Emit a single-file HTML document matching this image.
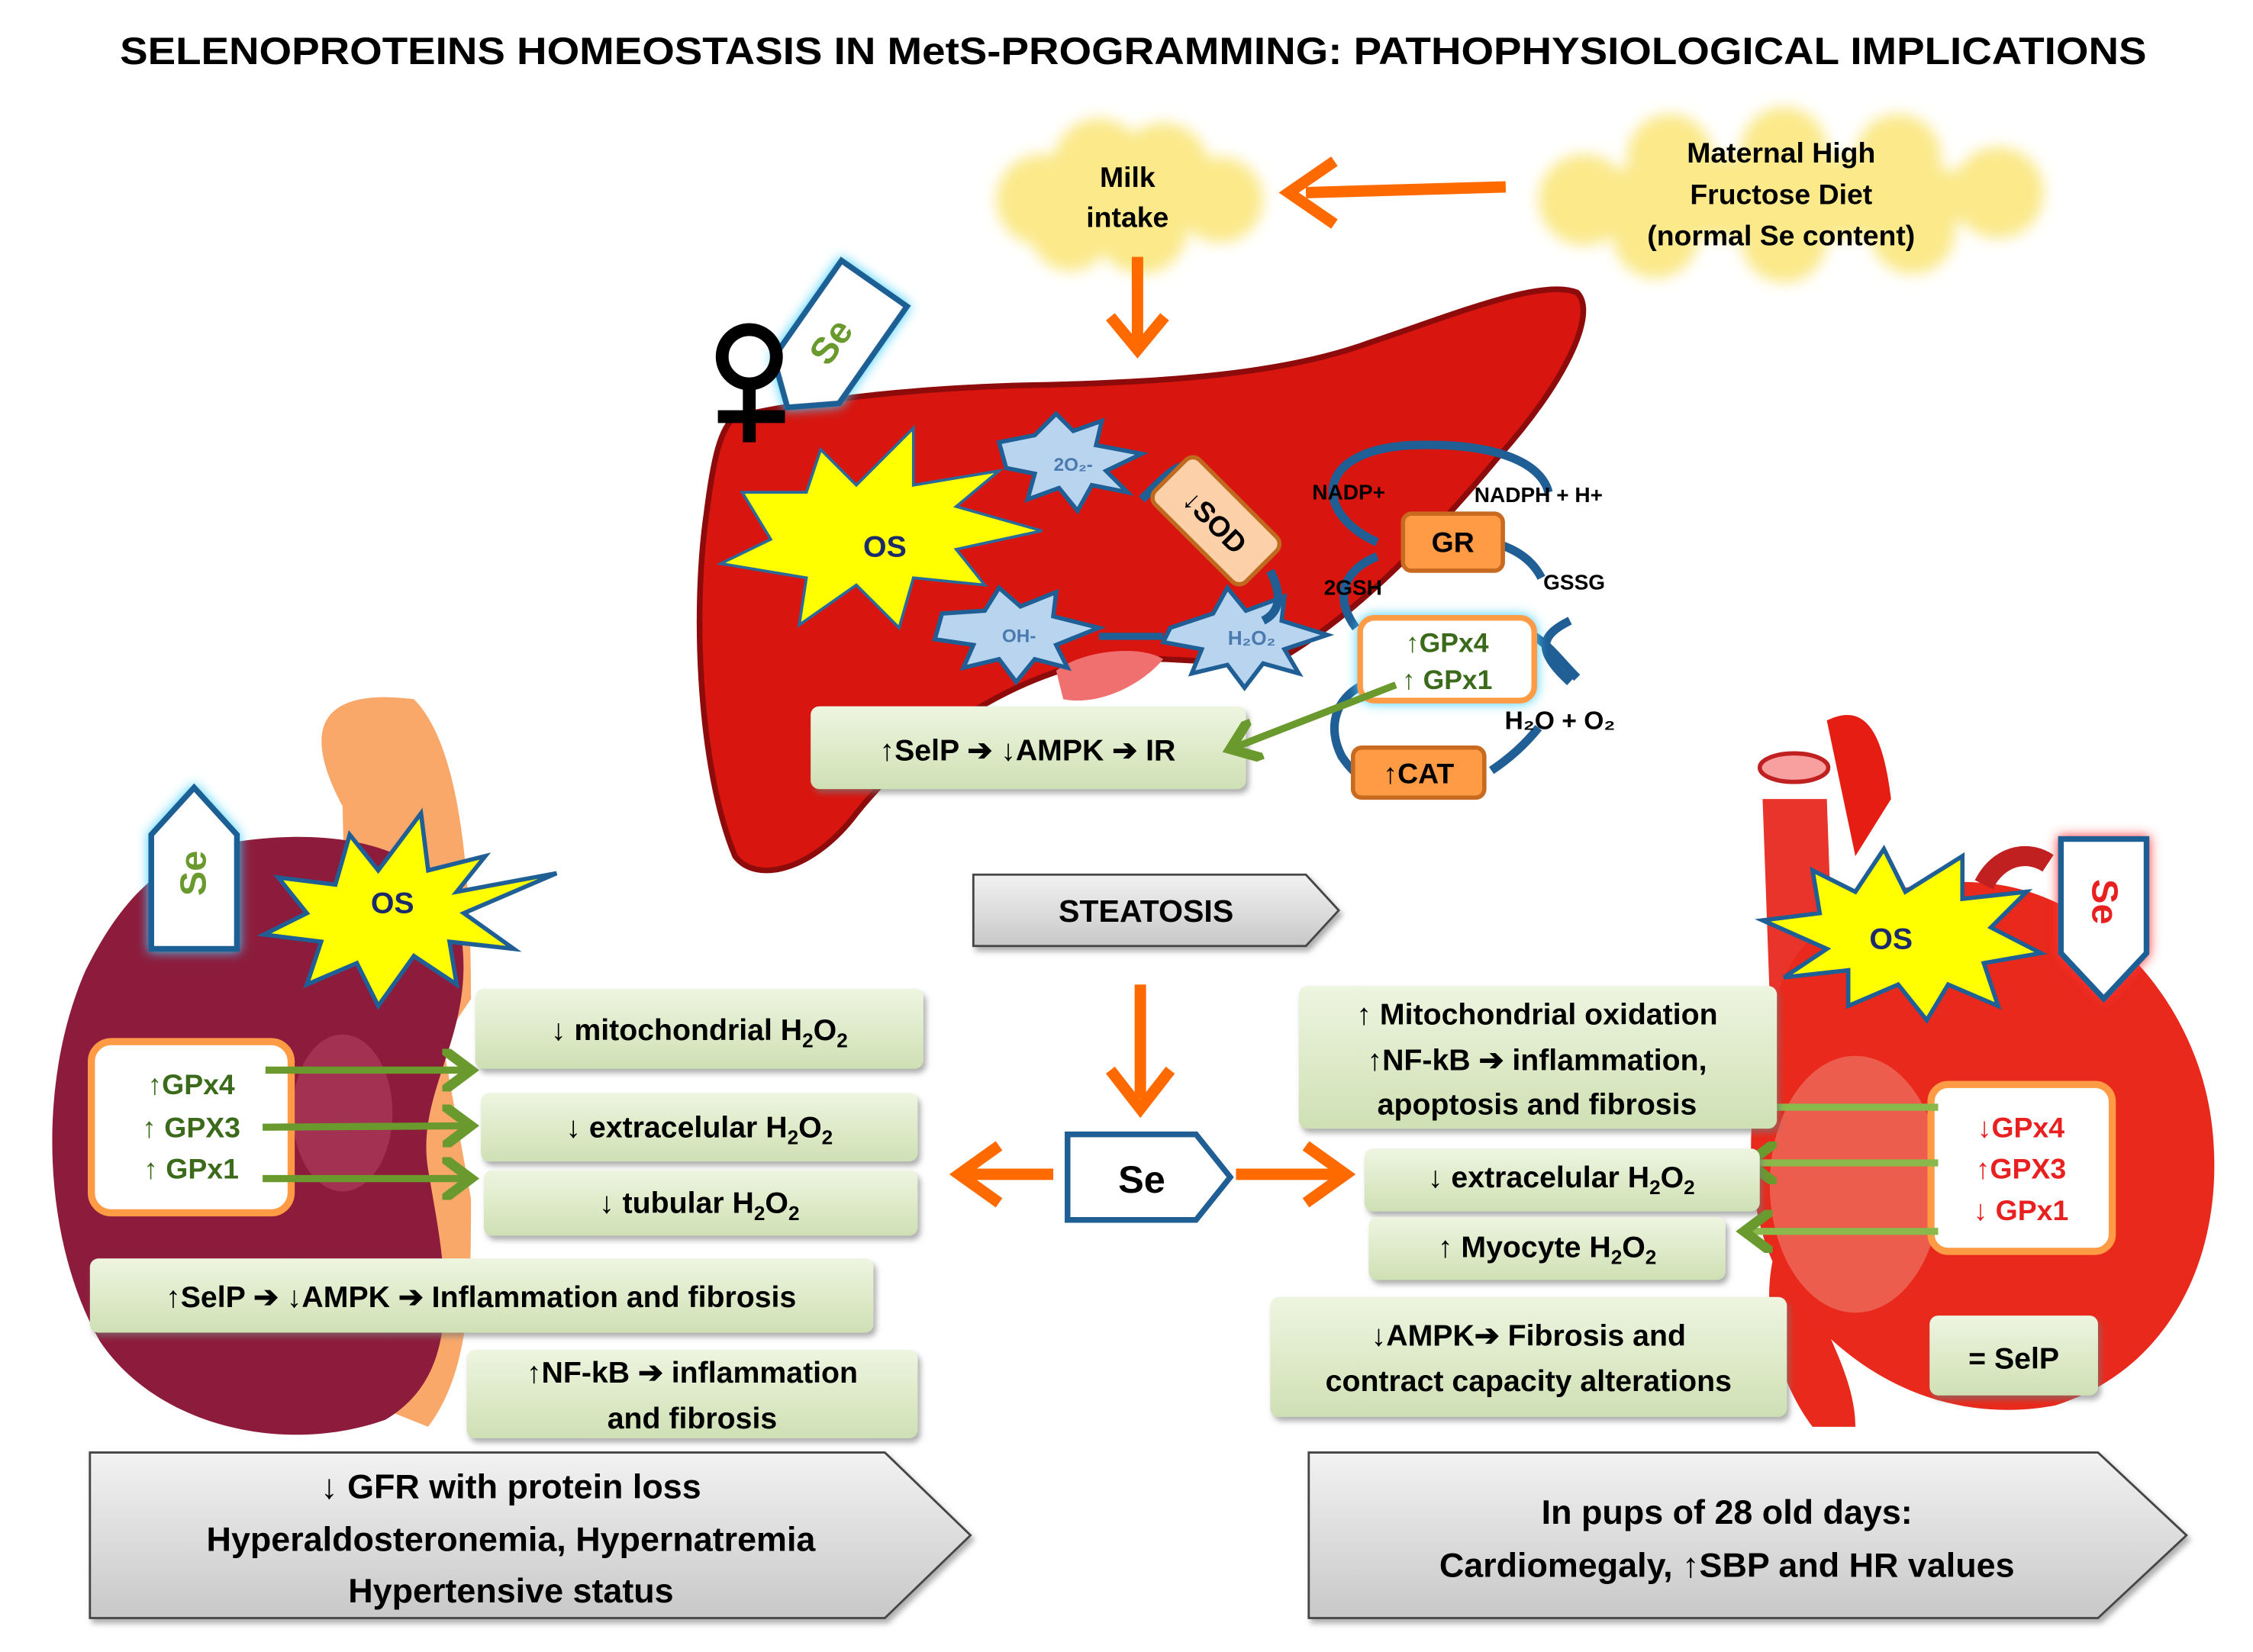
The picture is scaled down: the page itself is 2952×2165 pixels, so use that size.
<!DOCTYPE html>
<html><head><meta charset="utf-8"><style>
html,body{margin:0;padding:0;background:#fff}
svg{display:block}
text{font-family:"Liberation Sans",sans-serif;font-weight:bold}
</style></head><body>
<svg width="2952" height="2165" viewBox="0 0 1578.6 1157.8" preserveAspectRatio="none" xmlns="http://www.w3.org/2000/svg">
<defs>
<linearGradient id="gb" x1="0" y1="0" x2="0" y2="1"><stop offset="0" stop-color="#eef5e0"/><stop offset="1" stop-color="#cfe0b4"/></linearGradient>
<linearGradient id="gg" x1="0" y1="0" x2="0" y2="1"><stop offset="0" stop-color="#f2f2f2"/><stop offset="1" stop-color="#c8c8c8"/></linearGradient>
<filter id="sh" x="-10%" y="-10%" width="130%" height="140%"><feDropShadow dx="2" dy="3" stdDeviation="2" flood-color="#777" flood-opacity="0.6"/></filter>
<filter id="bl"><feGaussianBlur stdDeviation="5"/></filter>
<filter id="gl" x="-30%" y="-30%" width="160%" height="160%"><feDropShadow dx="0" dy="0" stdDeviation="4" flood-color="#40d0ff"/></filter>
<filter id="glr" x="-30%" y="-30%" width="160%" height="160%"><feDropShadow dx="0" dy="0" stdDeviation="4" flood-color="#ff3030"/></filter>
<marker id="ag" markerWidth="6" markerHeight="6" refX="4" refY="3" orient="auto" markerUnits="strokeWidth"><path d="M0,0 L4,3 L0,6" fill="none" stroke="#6a9a2e" stroke-width="1.4"/></marker>
</defs>

<text x="84" y="45" font-size="27" textLength="1420" lengthAdjust="spacingAndGlyphs">SELENOPROTEINS HOMEOSTASIS IN MetS-PROGRAMMING: PATHOPHYSIOLOGICAL IMPLICATIONS</text>

<!-- clouds -->
<g filter="url(#bl)" fill="#fbe98a">
<circle cx="730" cy="140" r="32"/><circle cx="770" cy="115" r="32"/><circle cx="815" cy="118" r="32"/><circle cx="855" cy="140" r="30"/><circle cx="800" cy="160" r="32"/><circle cx="750" cy="162" r="28"/>
<circle cx="1110" cy="140" r="32"/><circle cx="1170" cy="110" r="30"/><circle cx="1250" cy="105" r="30"/><circle cx="1330" cy="110" r="30"/><circle cx="1400" cy="135" r="32"/><circle cx="1340" cy="162" r="30"/><circle cx="1250" cy="168" r="30"/><circle cx="1160" cy="165" r="30"/><ellipse cx="1250" cy="138" rx="150" ry="30"/>
</g>
<text x="790" y="131" font-size="20" text-anchor="middle">Milk</text>
<text x="790" y="159" font-size="20" text-anchor="middle">intake</text>
<text x="1248" y="114" font-size="20" text-anchor="middle">Maternal High</text>
<text x="1248" y="143" font-size="20" text-anchor="middle">Fructose Diet</text>
<text x="1248" y="172" font-size="20" text-anchor="middle">(normal Se content)</text>
<line x1="1055" y1="131" x2="915" y2="135" stroke="#ff6a00" stroke-width="8"/>
<path d="M935,113 L903,135 L935,157" fill="none" stroke="#ff6a00" stroke-width="8"/>
<line x1="797" y1="180" x2="797" y2="240" stroke="#ff6a00" stroke-width="8"/>
<path d="M778,222 L797,245 L816,222" fill="none" stroke="#ff6a00" stroke-width="8"/>

<!-- liver -->
<path d="M515,292 C570,280 640,272 720,270 C820,268 900,262 960,240 C1020,220 1080,195 1105,205 C1120,220 1095,270 1050,320 C1000,380 950,430 900,460 C850,470 800,455 760,465 C700,480 640,520 600,570 C570,610 530,620 515,600 C490,540 485,430 495,360 C500,320 505,300 515,292 Z" fill="#d8150f" stroke="#8e0b0b" stroke-width="4"/>
<path d="M740,470 C760,455 800,452 815,462 C800,480 770,495 745,490 Z" fill="#f07070"/>

<!-- Se tag liver -->
<g transform="translate(585,238) rotate(35)" filter="url(#gl)">
<path d="M-28,-48 L28,-48 L28,35 L0,58 L-28,35 Z" fill="#fff" stroke="#1f5f95" stroke-width="4"/>
</g>
<text x="583" y="248" font-size="26" fill="#6a9a2e" transform="rotate(-55 583 240)" text-anchor="middle">Se</text>
<g stroke="#000" stroke-width="9" fill="none">
<circle cx="525" cy="250" r="19"/><line x1="525" y1="268" x2="525" y2="310"/><line x1="503" y1="292" x2="550" y2="292"/>
</g>

<!-- OS star liver -->
<polygon points="520,345 565,345 575,315 600,340 640,300 640,340 700,330 670,355 730,372 670,385 690,410 640,405 630,440 600,410 560,438 565,405 505,395 540,378" fill="#ffff00" stroke="#2a6a9a" stroke-width="2"/>
<text x="620" y="390" font-size="21" fill="#1a2a6a" text-anchor="middle">OS</text>
<polygon points="700,310 725,305 740,290 752,302 772,295 768,312 800,318 775,330 790,345 765,340 755,358 742,342 720,350 725,332 705,328" fill="#b8d4ee" stroke="#1f5f95" stroke-width="3"/>
<text x="752" y="330" font-size="13" fill="#4a7ab0" font-weight="normal" text-anchor="middle">2O₂-</text>
<polygon points="660,430 690,428 700,412 715,425 740,415 738,432 770,440 740,452 748,468 725,462 712,478 700,462 675,468 682,452 655,448" fill="#b8d4ee" stroke="#1f5f95" stroke-width="3"/>
<text x="714" y="450" font-size="13" fill="#4a7ab0" font-weight="normal" text-anchor="middle">OH-</text>
<line x1="815" y1="446" x2="770" y2="446" stroke="#1f5f95" stroke-width="5"/>
<polygon points="820,440 850,430 860,412 873,428 900,418 898,435 930,445 900,455 910,472 885,465 872,482 860,466 835,472 842,455 815,450" fill="#b8d4ee" stroke="#1f5f95" stroke-width="3"/>
<text x="877" y="452" font-size="14" fill="#4a7ab0" font-weight="normal" text-anchor="middle">H₂O₂</text>
<path d="M800,350 C820,330 830,320 840,330" fill="none" stroke="#1f5f95" stroke-width="6"/>
<path d="M890,400 C900,420 895,430 885,435" fill="none" stroke="#1f5f95" stroke-width="6"/>
<g transform="translate(852,365) rotate(45)">
<rect x="-45" y="-22" width="90" height="44" rx="7" fill="#fcd0a8" stroke="#c06a20" stroke-width="3"/>
<text x="0" y="8" font-size="20" text-anchor="middle">↓SOD</text>
</g>

<!-- GSH cycle -->
<g fill="none" stroke="#1f5f95" stroke-width="6">
<path d="M965,380 C920,360 920,315 990,312 C1050,310 1080,325 1085,345"/>
<path d="M965,390 C940,400 935,420 950,440"/>
<path d="M1045,380 C1065,385 1075,395 1080,405"/>
<path d="M1100,435 C1080,445 1075,455 1100,478"/>
<path d="M1065,440 C1085,450 1090,460 1105,475"/>
<path d="M955,480 C935,490 930,510 940,530 C950,545 960,550 970,550"/>
<path d="M1045,540 C1060,530 1070,520 1078,510"/>
</g>
<text x="945" y="350" font-size="15" text-anchor="middle">NADP+</text>
<text x="1078" y="352" font-size="15" text-anchor="middle">NADPH + H+</text>
<text x="948" y="417" font-size="15" text-anchor="middle">2GSH</text>
<text x="1103" y="413" font-size="15" text-anchor="middle">GSSG</text>
<rect x="983" y="360" width="70" height="40" rx="6" fill="#ff9a45" stroke="#c86a20" stroke-width="3"/>
<text x="1018" y="387" font-size="20" text-anchor="middle">GR</text>
<rect x="953" y="433" width="122" height="58" rx="10" fill="#fff" stroke="#ff9a45" stroke-width="4" filter="url(#gl)"/>
<text x="1014" y="457" font-size="19" fill="#3a6a1a" text-anchor="middle" font-weight="normal">↑GPx4</text>
<text x="1014" y="483" font-size="19" fill="#3a6a1a" text-anchor="middle" font-weight="normal">↑ GPx1</text>
<text x="1093" y="511" font-size="18" text-anchor="middle">H₂O + O₂</text>
<rect x="948" y="524" width="92" height="35" rx="6" fill="#ff9a45" stroke="#c86a20" stroke-width="3"/>
<text x="994" y="549" font-size="20" text-anchor="middle">↑CAT</text>

<rect x="568" y="495" width="305" height="58" rx="6" fill="url(#gb)" filter="url(#sh)"/>
<text x="720" y="533" font-size="21" text-anchor="middle">↑SelP ➔ ↓AMPK ➔ IR</text>
<line x1="978" y1="480" x2="862" y2="525" stroke="#6a9a2e" stroke-width="5" marker-end="url(#ag)"/>

<!-- steatosis -->
<path d="M682,613 L915,613 L938,638 L915,663 L682,663 Z" fill="url(#gg)" stroke="#444" stroke-width="1.5" filter="url(#sh)"/>
<text x="803" y="646" font-size="22" text-anchor="middle">STEATOSIS</text>
<line x1="799" y1="690" x2="799" y2="770" stroke="#ff6a00" stroke-width="8"/>
<path d="M778,750 L799,777 L820,750" fill="none" stroke="#ff6a00" stroke-width="8"/>
<path d="M748,795 L838,795 L862,825 L838,855 L748,855 Z" fill="#fff" stroke="#1f5f95" stroke-width="4"/>
<text x="800" y="836" font-size="27" text-anchor="middle">Se</text>
<line x1="738" y1="823" x2="675" y2="823" stroke="#ff6a00" stroke-width="8"/>
<path d="M700,803 L672,823 L700,843" fill="none" stroke="#ff6a00" stroke-width="8"/>
<line x1="866" y1="823" x2="940" y2="823" stroke="#ff6a00" stroke-width="8"/>
<path d="M915,803 L943,823 L915,843" fill="none" stroke="#ff6a00" stroke-width="8"/>

<!-- kidney -->
<path d="M240,565 C200,490 250,485 290,490 C320,520 330,600 330,700 L310,730 L330,840 C330,900 330,960 300,1000 L250,980 Z" fill="#f9a86a"/>
<path d="M165,590 C230,580 300,590 320,640 C340,720 290,760 300,820 C310,880 330,960 270,995 C200,1020 110,1000 70,940 C30,870 25,760 60,680 C90,620 120,600 165,590 Z" fill="#8d1c3c"/>
<ellipse cx="240" cy="780" rx="35" ry="55" fill="#b04060" opacity="0.6"/>
<g filter="url(#gl)"><path d="M106,585 L136,552 L166,585 L166,665 L106,665 Z" fill="#fff" stroke="#1f5f95" stroke-width="4"/></g>
<text x="136" y="620" font-size="26" fill="#6a9a2e" text-anchor="middle" transform="rotate(-90 136 612)">Se</text>
<polygon points="195,615 235,620 245,585 265,610 295,570 300,610 340,600 320,625 390,612 325,640 360,665 315,660 320,690 290,670 265,705 250,675 215,690 225,660 185,655 215,640" fill="#ffff00" stroke="#1f5f95" stroke-width="3"/>
<text x="275" y="640" font-size="21" fill="#1a2a6a" text-anchor="middle">OS</text>
<rect x="64" y="730" width="140" height="120" rx="14" fill="#fff" stroke="#ff9a45" stroke-width="5"/>
<text x="134" y="767" font-size="20" fill="#3a6a1a" text-anchor="middle" font-weight="normal">↑GPx4</text>
<text x="134" y="797" font-size="20" fill="#3a6a1a" text-anchor="middle" font-weight="normal">↑ GPX3</text>
<text x="134" y="826" font-size="20" fill="#3a6a1a" text-anchor="middle" font-weight="normal">↑ GPx1</text>
<g stroke="#6a9a2e" stroke-width="5"><line x1="186" y1="750" x2="330" y2="750" marker-end="url(#ag)"/><line x1="184" y1="790" x2="330" y2="789" marker-end="url(#ag)"/><line x1="184" y1="826" x2="330" y2="826" marker-end="url(#ag)"/></g>

<g filter="url(#sh)">
<rect x="333" y="693" width="314" height="56" rx="6" fill="url(#gb)"/>
<rect x="337" y="766" width="306" height="48" rx="6" fill="url(#gb)"/>
<rect x="339" y="820" width="304" height="46" rx="6" fill="url(#gb)"/>
<rect x="63" y="882" width="549" height="52" rx="6" fill="url(#gb)"/>
<rect x="327" y="946" width="316" height="62" rx="6" fill="url(#gb)"/>
</g>
<text x="490" y="729" font-size="21" text-anchor="middle">↓ mitochondrial H<tspan font-size="14" dy="5">2</tspan><tspan dy="-5">O</tspan><tspan font-size="14" dy="5">2</tspan></text>
<text x="490" y="797" font-size="21" text-anchor="middle">↓ extracelular H<tspan font-size="14" dy="5">2</tspan><tspan dy="-5">O</tspan><tspan font-size="14" dy="5">2</tspan></text>
<text x="490" y="850" font-size="21" text-anchor="middle">↓ tubular H<tspan font-size="14" dy="5">2</tspan><tspan dy="-5">O</tspan><tspan font-size="14" dy="5">2</tspan></text>
<text x="337" y="916" font-size="21" text-anchor="middle">↑SelP ➔ ↓AMPK ➔ Inflammation and fibrosis</text>
<text x="485" y="969" font-size="21" text-anchor="middle">↑NF-kB ➔ inflammation</text>
<text x="485" y="1001" font-size="21" text-anchor="middle">and fibrosis</text>

<path d="M63,1018 L620,1018 L680,1076 L620,1134 L63,1134 Z" fill="url(#gg)" stroke="#444" stroke-width="1.5" filter="url(#sh)"/>
<text x="358" y="1050" font-size="24" text-anchor="middle">↓    GFR with protein loss</text>
<text x="358" y="1087" font-size="24" text-anchor="middle">Hyperaldosteronemia, Hypernatremia</text>
<text x="358" y="1123" font-size="24" text-anchor="middle">Hypertensive status</text>

<!-- heart -->
<path d="M1235,560 L1280,560 L1285,700 L1240,700 Z" fill="#e8342a"/>
<ellipse cx="1257" cy="538" rx="24" ry="10" fill="#f8a0a0" stroke="#c02020" stroke-width="3"/>
<path d="M1280,505 C1310,490 1320,520 1325,560 L1300,600 Z" fill="#e51d12"/>
<path d="M1245,700 C1260,640 1330,610 1400,620 C1470,630 1540,700 1550,790 C1560,880 1520,960 1440,985 C1360,1000 1290,960 1250,900 C1215,840 1225,760 1245,700 Z" fill="#e8291c"/>
<path d="M1250,860 C1270,920 1300,960 1300,1000 L1270,1000 C1240,960 1230,900 1250,860 Z" fill="#e8291c"/>
<ellipse cx="1300" cy="830" rx="60" ry="90" fill="#f08070" opacity="0.6"/>
<path d="M1390,620 C1400,600 1420,595 1435,605" fill="none" stroke="#c02020" stroke-width="14"/>
<g filter="url(#glr)"><path d="M1444,588 L1504,588 L1504,668 L1474,700 L1444,668 Z" fill="#fff" stroke="#1f5f95" stroke-width="4"/></g>
<text x="1474" y="640" font-size="26" fill="#e82020" text-anchor="middle" transform="rotate(90 1474 632)">Se</text>
<polygon points="1235,645 1275,640 1270,610 1300,625 1320,595 1335,625 1375,600 1375,630 1420,625 1395,650 1430,668 1390,675 1400,705 1365,690 1350,715 1330,690 1295,705 1295,680 1250,685 1280,665" fill="#ffff00" stroke="#1f5f95" stroke-width="3"/>
<text x="1325" y="665" font-size="21" fill="#1a2a6a" text-anchor="middle">OS</text>
<rect x="1353" y="760" width="127" height="117" rx="12" fill="#fff" stroke="#ff9a45" stroke-width="5"/>
<text x="1416" y="797" font-size="20" fill="#e82020" text-anchor="middle" font-weight="normal">↓GPx4</text>
<text x="1416" y="826" font-size="20" fill="#e82020" text-anchor="middle" font-weight="normal">↑GPX3</text>
<text x="1416" y="855" font-size="20" fill="#e82020" text-anchor="middle" font-weight="normal">↓  GPx1</text>
<g stroke="#8ab84a" stroke-width="5"><line x1="1358" y1="776" x2="1222" y2="776" marker-end="url(#ag)"/><line x1="1358" y1="815" x2="1225" y2="815" marker-end="url(#ag)"/><line x1="1358" y1="863" x2="1222" y2="863" marker-end="url(#ag)"/></g>

<g filter="url(#sh)">
<rect x="910" y="691" width="335" height="100" rx="6" fill="url(#gb)"/>
<rect x="956" y="805" width="277" height="44" rx="6" fill="url(#gb)"/>
<rect x="959" y="853" width="250" height="44" rx="6" fill="url(#gb)"/>
<rect x="890" y="909" width="362" height="84" rx="6" fill="url(#gb)"/>
<rect x="1352" y="922" width="118" height="56" rx="6" fill="url(#gb)"/>
</g>
<text x="1077" y="718" font-size="21" text-anchor="middle">↑ Mitochondrial oxidation</text>
<text x="1077" y="750" font-size="21" text-anchor="middle">↑NF-kB ➔ inflammation,</text>
<text x="1077" y="781" font-size="21" text-anchor="middle">apoptosis and fibrosis</text>
<text x="1094" y="832" font-size="21" text-anchor="middle">↓ extracelular H<tspan font-size="14" dy="5">2</tspan><tspan dy="-5">O</tspan><tspan font-size="14" dy="5">2</tspan></text>
<text x="1084" y="881" font-size="21" text-anchor="middle">↑ Myocyte H<tspan font-size="14" dy="5">2</tspan><tspan dy="-5">O</tspan><tspan font-size="14" dy="5">2</tspan></text>
<text x="1071" y="943" font-size="21" text-anchor="middle">↓AMPK➔ Fibrosis and</text>
<text x="1071" y="975" font-size="21" text-anchor="middle">contract capacity alterations</text>
<text x="1411" y="959" font-size="21" text-anchor="middle">= SelP</text>

<path d="M917,1018 L1470,1018 L1532,1076 L1470,1134 L917,1134 Z" fill="url(#gg)" stroke="#444" stroke-width="1.5" filter="url(#sh)"/>
<text x="1210" y="1068" font-size="24" text-anchor="middle">In pups of 28 old days:</text>
<text x="1210" y="1105" font-size="24" text-anchor="middle">Cardiomegaly, ↑SBP and HR values</text>
</svg>
</body></html>
